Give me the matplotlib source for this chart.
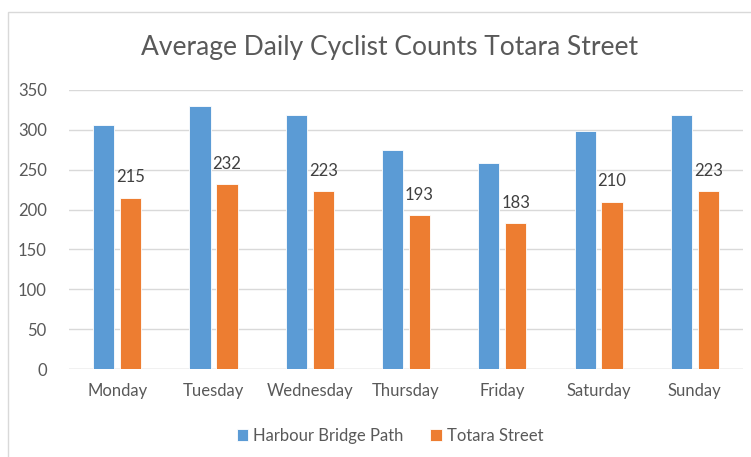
import numpy as np
import matplotlib.pyplot as plt
from matplotlib.patches import Rectangle

days = ['Monday', 'Tuesday', 'Wednesday', 'Thursday', 'Friday', 'Saturday', 'Sunday']
harbour_bridge = [306, 330, 319, 275, 259, 299, 319]
totara_street = [215, 232, 223, 193, 183, 210, 223]

BLUE = '#5B9BD5'
ORANGE = '#ED7D31'
GREY_TXT = '#595959'

plt.rcParams['font.family'] = ['Lato', 'DejaVu Sans']

fig = plt.figure(figsize=(7.51, 4.57), dpi=100)
ax = fig.add_axes([69 / 751, 1 - 369 / 457, (743 - 69) / 751, (369 - 90) / 457])

x = np.arange(len(days))
w = 0.22
b1 = ax.bar(x - 0.14, harbour_bridge, w, color=BLUE, edgecolor='white', linewidth=0.6,
            label='Harbour Bridge Path', zorder=3)
b2 = ax.bar(x + 0.14, totara_street, w, color=ORANGE, edgecolor='white', linewidth=0.6,
            label='Totara Street', zorder=3)
ax.bar_label(b2, padding=9, fontsize=12, color='#404040')

ax.set_xlim(-0.5, len(days) - 0.5)
ax.set_ylim(0, 350)
ax.set_yticks(range(0, 351, 50))
ax.set_xticks(x)
ax.set_xticklabels(days)
ax.tick_params(axis='both', length=0, labelsize=12, colors=GREY_TXT)
ax.tick_params(axis='x', pad=10)
ax.tick_params(axis='y', pad=16)
ax.grid(axis='y', color='#D9D9D9', linewidth=1, zorder=0)
for s in ax.spines.values():
    s.set_visible(False)
ax.axhline(0, color='#D9D9D9', linewidth=1, zorder=1)

fig.text(390 / 751, 1 - 47 / 457, 'Average Daily Cyclist Counts Totara Street',
         ha='center', va='center', fontsize=19, color=GREY_TXT)

leg = fig.legend(handles=[b1, b2], loc='center', bbox_to_anchor=(390 / 751, 1 - 436 / 457),
                 ncol=2, frameon=False, fontsize=12, handlelength=0.7, handleheight=0.7,
                 handletextpad=0.3, columnspacing=1.6)
for t in leg.get_texts():
    t.set_color(GREY_TXT)

# chart frame (left and top edges visible)
fig.add_artist(Rectangle((8 / 751, -0.1), 1.2, 1 - 12 / 457 + 0.1, transform=fig.transFigure,
                         fill=False, edgecolor='#D9D9D9', linewidth=1))

fig.savefig('out.png', dpi=100)
